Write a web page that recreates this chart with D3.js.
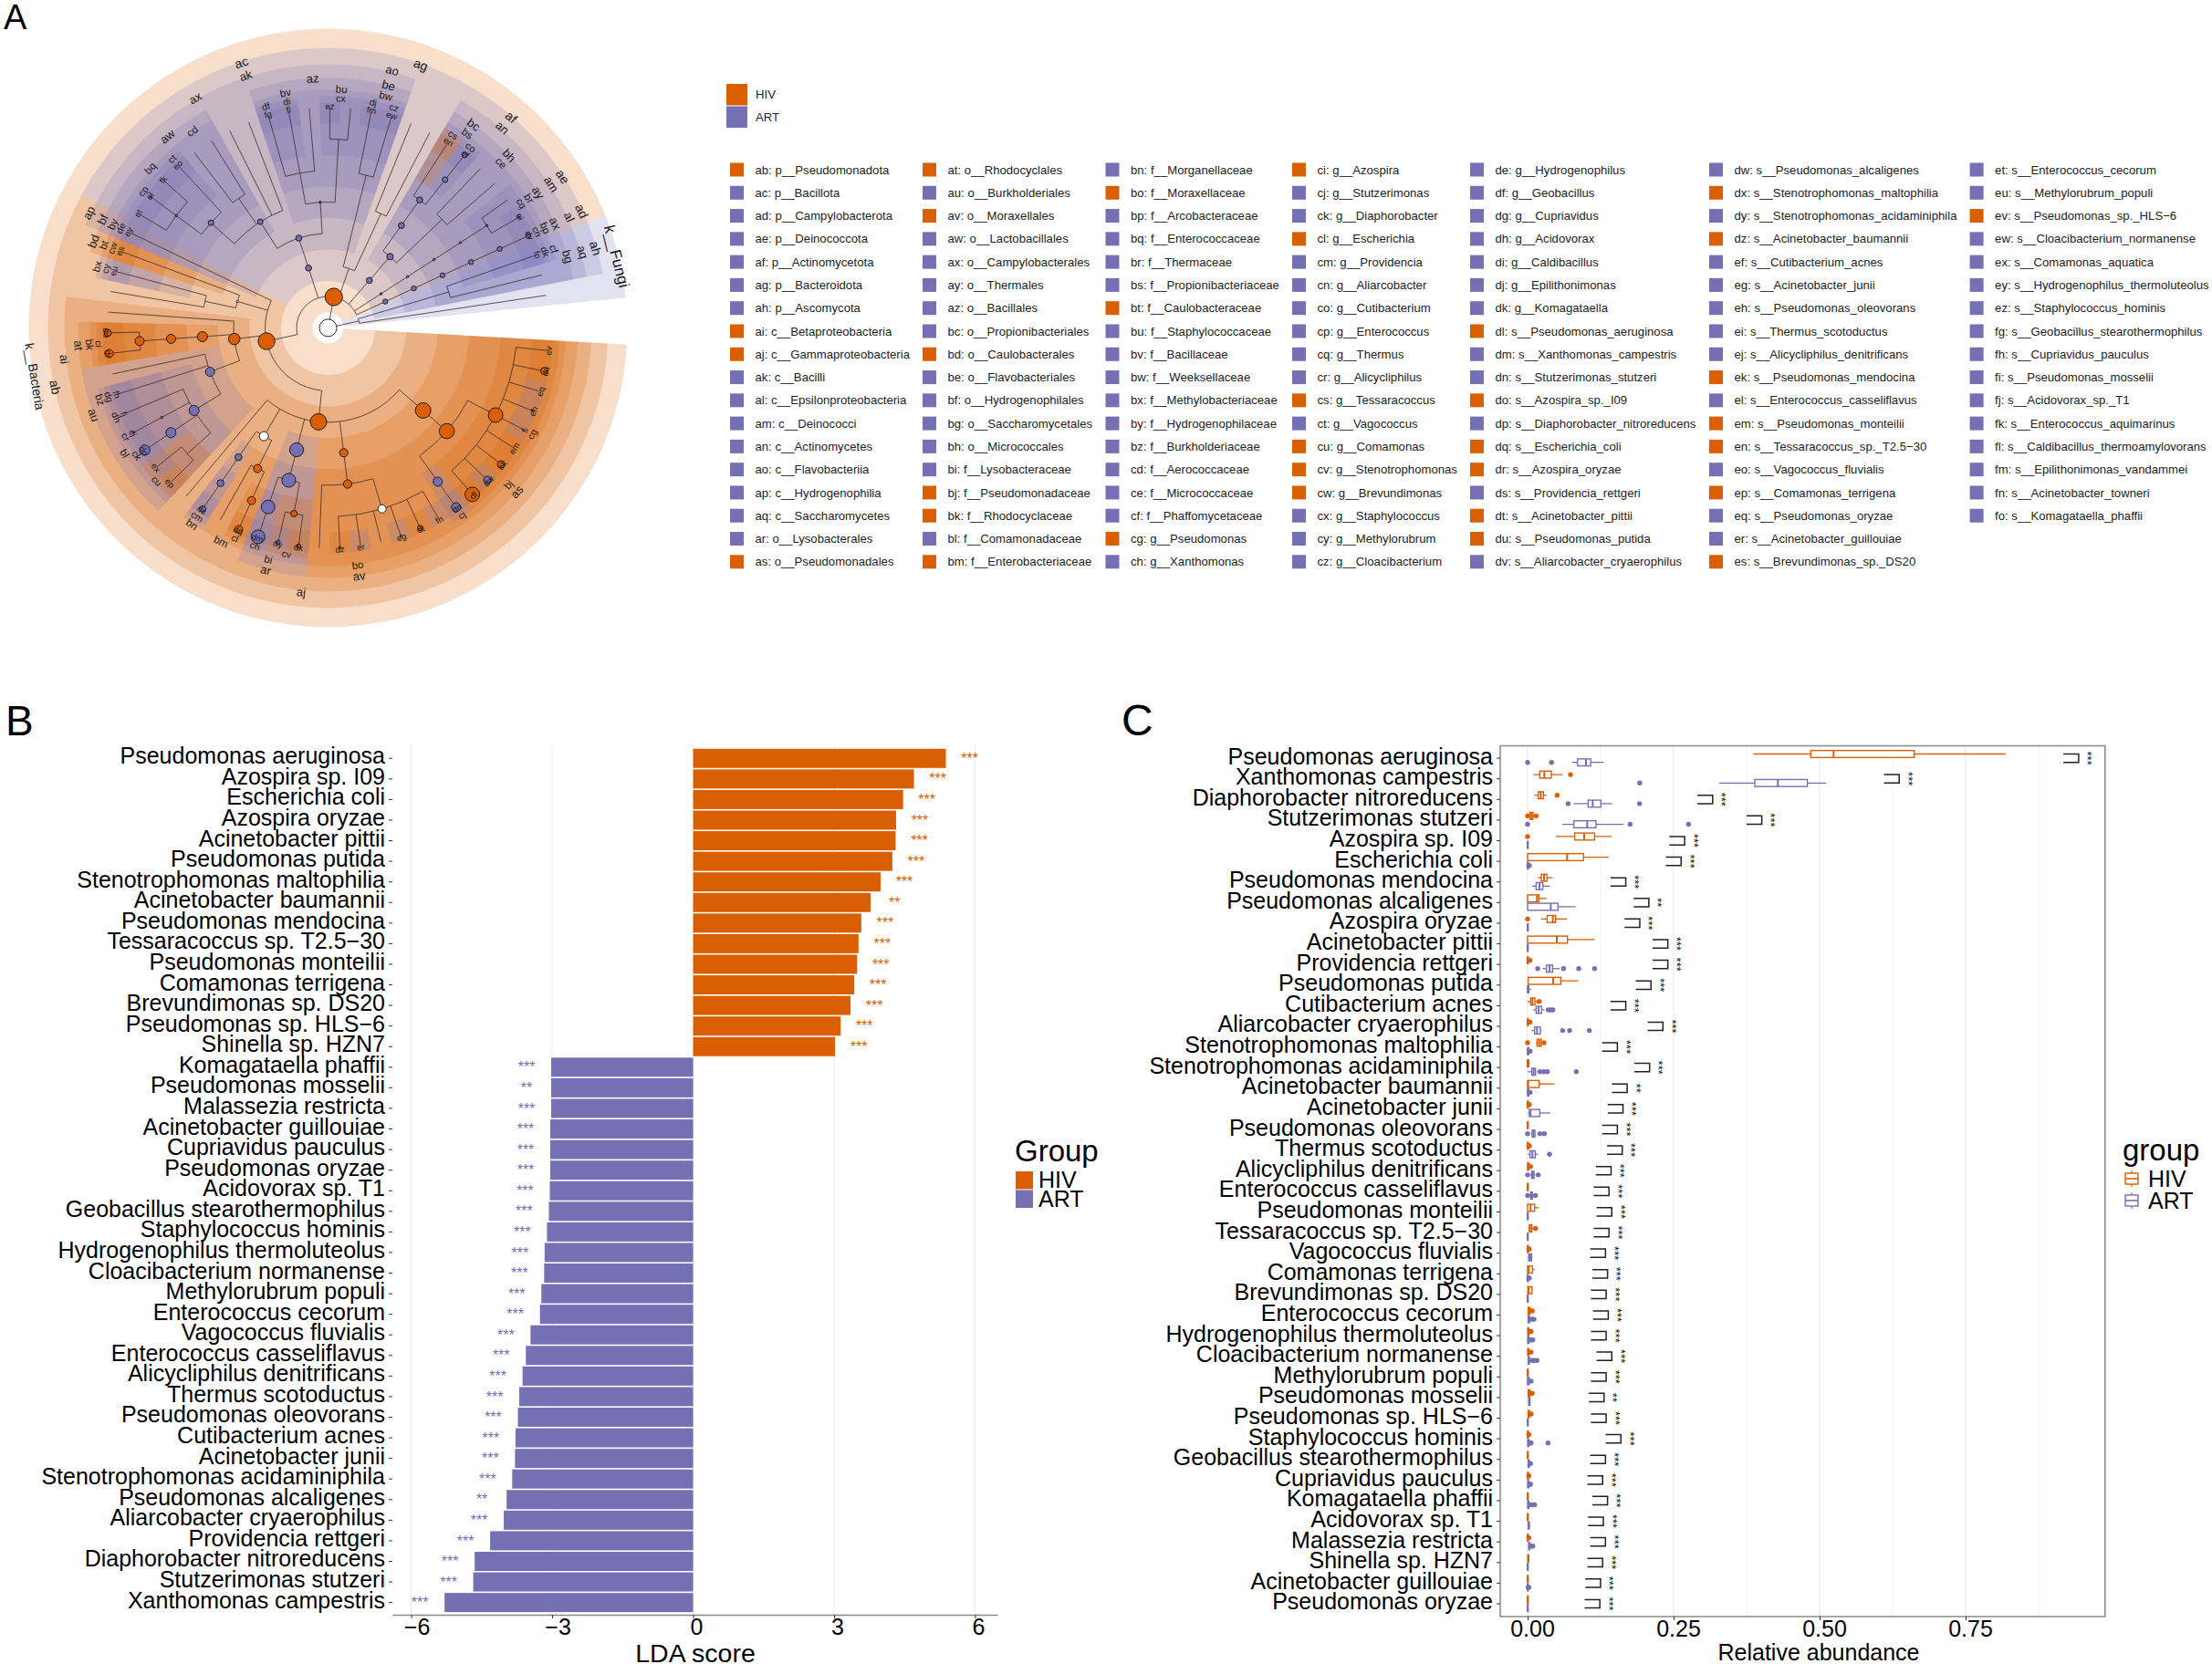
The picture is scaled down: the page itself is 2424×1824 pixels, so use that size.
<!DOCTYPE html>
<html>
<head>
<meta charset="utf-8">
<script src="https://cdn.jsdelivr.net/npm/d3@7"></script>
<style>
  html, body { margin: 0; padding: 0; background: #fff; }
  svg { display: block; font-family: "Liberation Sans", Arial, sans-serif; }
</style>
</head>
<body>
<svg id="fig" width="2424" height="1824"></svg>
<script>
// ---- data -----------------------------------------------------------------
const HIV = '#D95F02', ART = '#7570B3';

// panel A legend, one list per column
const legendCol1 = ['ab: p__Pseudomonadota','ac: p__Bacillota','ad: p__Campylobacterota','ae: p__Deinococcota','af: p__Actinomycetota','ag: p__Bacteroidota','ah: p__Ascomycota','ai: c__Betaproteobacteria','aj: c__Gammaproteobacteria','ak: c__Bacilli','al: c__Epsilonproteobacteria','am: c__Deinococci','an: c__Actinomycetes','ao: c__Flavobacteriia','ap: c__Hydrogenophilia','aq: c__Saccharomycetes','ar: o__Lysobacterales','as: o__Pseudomonadales'];
const legendCol2 = ['at: o__Rhodocyclales','au: o__Burkholderiales','av: o__Moraxellales','aw: o__Lactobacillales','ax: o__Campylobacterales','ay: o__Thermales','az: o__Bacillales','bc: o__Propionibacteriales','bd: o__Caulobacterales','be: o__Flavobacteriales','bf: o__Hydrogenophilales','bg: o__Saccharomycetales','bh: o__Micrococcales','bi: f__Lysobacteraceae','bj: f__Pseudomonadaceae','bk: f__Rhodocyclaceae','bl: f__Comamonadaceae','bm: f__Enterobacteriaceae'];
const legendCol3 = ['bn: f__Morganellaceae','bo: f__Moraxellaceae','bp: f__Arcobacteraceae','bq: f__Enterococcaceae','br: f__Thermaceae','bs: f__Propionibacteriaceae','bt: f__Caulobacteraceae','bu: f__Staphylococcaceae','bv: f__Bacillaceae','bw: f__Weeksellaceae','bx: f__Methylobacteriaceae','by: f__Hydrogenophilaceae','bz: f__Burkholderiaceae','cd: f__Aerococcaceae','ce: f__Micrococcaceae','cf: f__Phaffomycetaceae','cg: g__Pseudomonas','ch: g__Xanthomonas'];
const legendCol4 = ['ci: g__Azospira','cj: g__Stutzerimonas','ck: g__Diaphorobacter','cl: g__Escherichia','cm: g__Providencia','cn: g__Aliarcobacter','co: g__Cutibacterium','cp: g__Enterococcus','cq: g__Thermus','cr: g__Alicycliphilus','cs: g__Tessaracoccus','ct: g__Vagococcus','cu: g__Comamonas','cv: g__Stenotrophomonas','cw: g__Brevundimonas','cx: g__Staphylococcus','cy: g__Methylorubrum','cz: g__Cloacibacterium'];
const legendCol5 = ['de: g__Hydrogenophilus','df: g__Geobacillus','dg: g__Cupriavidus','dh: g__Acidovorax','di: g__Caldibacillus','dj: g__Epilithonimonas','dk: g__Komagataella','dl: s__Pseudomonas_aeruginosa','dm: s__Xanthomonas_campestris','dn: s__Stutzerimonas_stutzeri','do: s__Azospira_sp._I09','dp: s__Diaphorobacter_nitroreducens','dq: s__Escherichia_coli','dr: s__Azospira_oryzae','ds: s__Providencia_rettgeri','dt: s__Acinetobacter_pittii','du: s__Pseudomonas_putida','dv: s__Aliarcobacter_cryaerophilus'];
const legendCol6 = ['dw: s__Pseudomonas_alcaligenes','dx: s__Stenotrophomonas_maltophilia','dy: s__Stenotrophomonas_acidaminiphila','dz: s__Acinetobacter_baumannii','ef: s__Cutibacterium_acnes','eg: s__Acinetobacter_junii','eh: s__Pseudomonas_oleovorans','ei: s__Thermus_scotoductus','ej: s__Alicycliphilus_denitrificans','ek: s__Pseudomonas_mendocina','el: s__Enterococcus_casseliflavus','em: s__Pseudomonas_monteilii','en: s__Tessaracoccus_sp._T2.5\u221230','eo: s__Vagococcus_fluvialis','ep: s__Comamonas_terrigena','eq: s__Pseudomonas_oryzae','er: s__Acinetobacter_guillouiae','es: s__Brevundimonas_sp._DS20'];
const legendCol7 = ['et: s__Enterococcus_cecorum','eu: s__Methylorubrum_populi','ev: s__Pseudomonas_sp._HLS\u22126','ew: s__Cloacibacterium_normanense','ex: s__Comamonas_aquatica','ey: s__Hydrogenophilus_thermoluteolus','ez: s__Staphylococcus_hominis','fg: s__Geobacillus_stearothermophilus','fh: s__Cupriavidus_pauculus','fi: s__Pseudomonas_mosselii','fj: s__Acidovorax_sp._T1','fk: s__Enterococcus_aquimarinus','fl: s__Caldibacillus_thermoamylovorans','fm: s__Epilithonimonas_vandammei','fn: s__Acinetobacter_towneri','fo: s__Komagataella_phaffii'];
const hivTaxa = ['ab','ai','aj','as','at','av','bd','bj','bk','bm','bo','bt','cg','ci','cl','cs','cu','cv','cw','dl','do','dq','dr','dt','du','dx','dz','ek','em','en','ep','es','ev','k__Bacteria'];

// cladogram: [label, node radius, ...children], children in clockwise order
const cladeTree = ['', 9.5,
  ['k__Bacteria', 9.6,
    ['ab', 9.2,
      ['aj', 9,
        ['as', 8.5, ['bj', 8.3,
          ['cg', 8, ['ev',0],['du',3.8],['eq',0],['eh',1],['fi',0],['em',0],['ek',4],['dw',4.2],['dl',8]],
          ['cj', 5, ['dn',5]]]],
        ['av', 4.6, ['bo', 4.6,
          ['', 4.5, ['fn',0],['dt',3],['eg',1],['',0],['er',0],['dz',1.5]],
          ['',0]]],
        ['ar', 7.6, ['bi', 7.6,
          ['cv', 3.5, ['dx',2.5],['dy',2.5]],
          ['ch', 7.4, ['dm',7.5]]]],
        ['', 5,
          ['bm', 4.5, ['cl',4.4,['dq',4.3]], ['',0]],
          ['bn', 3.8, ['cm',3.8,['ds',3.5]]]],
        ['',0]],
      ['ai', 6.3,
        ['au', 5,
          ['bl', 5.5,
            ['cu',0,['ep',0],['ex',0]],
            ['ck',5.5,['dp',5.6]],
            ['cr',1.2,['ej',1]],
            ['dh',0,['fj',0]]],
          ['bz',0,['dg',0,['fh',0]]],
          ['',0]],
        ['at',5.5,['bk',5,['ci',5,['dr',4.5],['do',4]]]],
        ['',0]],
      ['', 1.2,
        ['',0,['',0],['bx',0,['cy',0,['eu',0]]]],
        ['bd',0,['bt',0,['cw',0,['es',0]]]]],
      ['ap',0,['bf',0,['by',0,['de',0,['ey',0]]]]]],
    ['ac', 3.3, ['ak', 3.3,
      ['aw', 3,
        ['bq', 3, ['cp',1.2,['et',0],['el',1],['fk',0]], ['ct',0,['eo',0]]],
        ['cd',0,['',0],['',0]],
        ['',0],['',0]],
      ['az', 1.2,
        ['bv',0,['df',0,['fg',0]],['di',0,['fl',0]],['',0]],
        ['bu',0,['cx',0,['ez',0],['',0]]]]]],
    ['ag',0,
      ['ao',0,['be',0,['bw',0,['dj',0,['fm',0]],['cz',0,['ew',0]]]]],
      ['',0,['',0,['',0],['',0]]]],
    ['af',3.3,['an',3.5,
      ['bc',3.3,['bs',3.3,['cs',0,['en',0]],['co',3,['ef',3]]]],
      ['bh',0,['ce',0,['',0],['',0]]]]],
    ['ae',1.2,['am',1.2,['ay',1.2,['br',1.2,['cq',1.2,['',0],['ei',1.2]]]]]],
    ['ad',2.7,['al',2.7,['ax',2.7,['bp',2.7,['cn',2.7,['dv',2.7]]]]]]],
  ['k__Fungi',0,
    ['ah',0,['aq',0,['bg',0,['cf',0,['dk',0,['fo',0]]],['',0]]]],
    ['',0]]];
const leafCount = 65;
const ringOuter = [328, 307, 289, 274, 261, 254, 247];     // k..s shaded wedge outer radius
const labelRadius = [326, 306, 291, 274, 262, 252, 243];   // k..s label radius
const labelSize = [14, 14, 13, 13, 11.5, 10.5, 9.5];
const kingdomFungiSize = 17;
// the Lactobacillales wedge stops short of the two last leaves of its clade
const wedgeSpanFix = { aw: [38, 43] };
const labelLeafFix = { aw: 41.5 };
const extraLabels = [{ label: 'ax', level: 2, leaf: 43.35 }];

// panel B
const lefseHIV = ['Pseudomonas aeruginosa','Azospira sp. I09','Escherichia coli','Azospira oryzae','Acinetobacter pittii','Pseudomonas putida','Stenotrophomonas maltophilia','Acinetobacter baumannii','Pseudomonas mendocina','Tessaracoccus sp. T2.5\u221230','Pseudomonas monteilii','Comamonas terrigena','Brevundimonas sp. DS20','Pseudomonas sp. HLS\u22126','Shinella sp. HZN7'];
const ldaHIV = [5.38,4.70,4.47,4.32,4.31,4.24,3.99,3.78,3.58,3.52,3.49,3.43,3.35,3.14,3.02];
const sigHIV = ['***','***','***','***','***','***','***','**','***','***','***','***','***','***','***'];
const lefseART = ['Komagataella phaffii','Pseudomonas mosselii','Malassezia restricta','Acinetobacter guillouiae','Cupriavidus pauculus','Pseudomonas oryzae','Acidovorax sp. T1','Geobacillus stearothermophilus','Staphylococcus hominis','Hydrogenophilus thermoluteolus','Cloacibacterium normanense','Methylorubrum populi','Enterococcus cecorum','Vagococcus fluvialis','Enterococcus casseliflavus','Alicycliphilus denitrificans','Thermus scotoductus','Pseudomonas oleovorans','Cutibacterium acnes','Acinetobacter junii','Stenotrophomonas acidaminiphila','Pseudomonas alcaligenes','Aliarcobacter cryaerophilus','Providencia rettgeri','Diaphorobacter nitroreducens','Stutzerimonas stutzeri','Xanthomonas campestris'];
const ldaART = [-3.02,-3.02,-3.02,-3.04,-3.04,-3.04,-3.05,-3.07,-3.11,-3.16,-3.17,-3.23,-3.26,-3.46,-3.56,-3.63,-3.70,-3.73,-3.78,-3.79,-3.85,-3.97,-4.03,-4.32,-4.65,-4.68,-5.29];
const sigART = ['***','**','***','***','***','***','***','***','***','***','***','***','***','***','***','***','***','***','***','***','***','**','***','***','***','***','***'];

// panel C, rows top to bottom; boxes are [lower whisker, q1, median, q3, upper whisker, outliers]
const abundanceTaxa = ['Pseudomonas aeruginosa','Xanthomonas campestris','Diaphorobacter nitroreducens','Stutzerimonas stutzeri','Azospira sp. I09','Escherichia coli','Pseudomonas mendocina','Pseudomonas alcaligenes','Azospira oryzae','Acinetobacter pittii','Providencia rettgeri','Pseudomonas putida','Cutibacterium acnes','Aliarcobacter cryaerophilus','Stenotrophomonas maltophilia','Stenotrophomonas acidaminiphila','Acinetobacter baumannii','Acinetobacter junii','Pseudomonas oleovorans','Thermus scotoductus','Alicycliphilus denitrificans','Enterococcus casseliflavus','Pseudomonas monteilii','Tessaracoccus sp. T2.5\u221230','Vagococcus fluvialis','Comamonas terrigena','Brevundimonas sp. DS20','Enterococcus cecorum','Hydrogenophilus thermoluteolus','Cloacibacterium normanense','Methylorubrum populi','Pseudomonas mosselii','Pseudomonas sp. HLS\u22126','Staphylococcus hominis','Geobacillus stearothermophilus','Cupriavidus pauculus','Komagataella phaffii','Acidovorax sp. T1','Malassezia restricta','Shinella sp. HZN7','Acinetobacter guillouiae','Pseudomonas oryzae'];
const boxHIV = [
  [.3866,.485,.524,.662,.819,[]],[.0099,.0208,.0286,.0406,.06,[.0734]],[.012,.0182,.0224,.027,.0323,[.0505]],
  [.0016,.0042,.0068,.0094,.012,[0,.0146]],[.0484,.0807,.0969,.1146,.1437,[0]],[0,0,.0677,.0958,.1385,[]],
  [.0177,.0234,.0281,.0333,.0427,[]],[0,0,.0161,.0193,.0323,[]],[.0229,.0333,.0432,.0479,.0677,[0]],
  [0,0,.05,.0682,.115,[]],[0,0,0,.001,.002,[.002,.003,.004]],[.001,.001,.0438,.0568,.0865,[]],
  [0,.0052,.0083,.0125,.0172,[.0198]],[0,0,.0005,.001,.002,[.003,.004]],[.0146,.0161,.0198,.0234,.025,[0,.0281]],
  [0,0,0,.002,.004,[]],[0,0,.001,.0198,.0464,[]],[0,0,.0005,.001,.002,[.002,.003]],
  [0,0,0,.001,.002,[]],[0,0,.0005,.001,.002,[.002,.003]],[0,0,.001,.002,.003,[.005]],
  [0,0,0,.001,.002,[]],[0,0,.0052,.012,.0188,[]],[.0021,.0031,.0042,.0073,.0094,[.0135]],
  [0,0,.0005,.001,.002,[.002,.003]],[0,0,.002,.0084,.012,[]],[0,.0005,.002,.0075,.008,[]],
  [0,.001,.002,.004,.005,[.006,.008]],[0,.0005,.001,.002,.003,[.004,.006]],[0,.0005,.001,.002,.003,[.004,.006]],
  [0,0,0,.001,.002,[]],[0,.001,.002,.004,.005,[.006,.008]],[0,.001,.002,.003,.005,[.006]],
  [0,0,.0005,.001,.002,[.002]],[0,0,0,.001,.001,[]],[0,0,.001,.001,.002,[.002]],
  [0,0,0,.001,.001,[]],[0,0,0,.001,.001,[]],[0,0,.0005,.001,.002,[.002]],
  [0,.0005,.001,.002,.002,[]],[0,0,0,.001,.001,[]],[0,0,0,.001,.001,[]]];
const boxART = [
  [.076,.0854,.1,.108,.13,[0,.041]],[.328,.389,.4286,.479,.511,[.192]],[.0786,.1036,.1115,.1255,.1448,[.0693,.1917]],
  [.0594,.0792,.102,.117,.1646,[0,.1755,.2755]],[0,0,0,.001,.001,[]],[0,0,.0005,.001,.002,[.002,.003]],
  [.0078,.0146,.0203,.026,.0385,[]],[0,0,.0396,.0521,.0823,[]],[0,0,0,.001,.001,[]],
  [0,0,0,.001,.001,[]],[.026,.0323,.0375,.0427,.055,[.0172,.0615,.0875,.1146]],[0,0,.001,.002,.006,[]],
  [.0094,.0146,.0188,.024,.029,[.0354,.039,.0432]],[.0068,.012,.0161,.0219,.024,[.06,.0719,.1057]],[0,0,.0005,.002,.003,[.0042]],
  [.0005,.0073,.0104,.0135,.0146,[.0208,.0276,.0339,.0833]],[0,0,.001,.002,.004,[.003,.0042]],[.001,.003,.005,.0208,.039,[]],
  [.0057,.0078,.01,.0125,.0135,[0,.0208,.0286]],[.0005,.0042,.0083,.013,.0177,[.0375]],[.0042,.0068,.0089,.0109,.0135,[0,.0182]],
  [.0031,.0052,.0068,.0083,.0094,[0,.0135]],[0,0,0,.001,.001,[]],[0,0,0,.001,.001,[]],
  [.0005,.0021,.0045,.0068,.0083,[]],[0,0,0,.001,.002,[.002,.003]],[0,0,0,.001,.001,[]],
  [0,.001,.002,.003,.004,[.006,.008,.011]],[0,.0005,.001,.002,.003,[.004,.006,.009]],[0,.001,.002,.003,.005,[.008,.012,.016]],
  [0,0,.001,.003,.005,[.006]],[.002,.002,.003,.004,.005,[]],[0,0,0,.001,.001,[]],
  [0,.0005,.001,.002,.003,[.004,.006,.035]],[.001,.001,.002,.003,.004,[.005]],[0,.0005,.001,.002,.003,[.004,.005]],
  [0,.0005,.001,.002,.003,[.005,.008,.012]],[.001,.001,.002,.003,.003,[]],[.001,.002,.003,.004,.005,[.007,.009]],
  [0,0,0,.001,.001,[]],[0,0,0,.001,.001,[.001,.002]],[0,0,0,.001,.001,[]]];
const bracketAt = [.9436,.6363,.3169,.401,.2689,.2629,.1681,.2077,.1921,.2401,.2401,.2113,.1681,.2317,.1537,.2089,.1705,.1633,.1537,.1621,.1429,.1393,.1441,.1393,.1333,.1369,.1345,.1381,.1345,.1441,.1345,.1309,.1345,.1597,.1333,.1285,.1369,.1297,.1333,.1285,.1249,.1237];
const bracketSig = abundanceTaxa.map(t => ['Pseudomonas alcaligenes','Acinetobacter baumannii','Pseudomonas mosselii'].includes(t) ? '**' : '***');

// ---- helpers --------------------------------------------------------------
const svg = d3.select('#fig');
const rad = d => d * Math.PI / 180;
const panelTag = (t, x, y, size) => svg.append('text').attr('x', x).attr('y', y).attr('font-size', size).attr('fill', '#000').text(t);
const starDrop = 0.575;   // '*' sits high in its line box
panelTag('A', 4, 32, 38);
panelTag('B', 6, 806, 46);
panelTag('C', 1229, 806, 48);

// ---- panel A: cladogram ---------------------------------------------------
const cx = 359.5, cy = 359.4;
const gA = svg.append('g').attr('transform', `translate(${cx},${cy})`);
const theta = d3.scaleLinear([0, leafCount - 1], [5.9, 351.5]);
const radius = d3.scaleLinear([0, 7], [0, 241.5]);
const halfLeaf = 2.7;
const isHIV = new Set(hivTaxa);
const colorOf = l => isHIV.has(l) ? HIV : ART;

const root = d3.hierarchy(cladeTree, d => d.slice(2).length ? d.slice(2) : null);
let nextLeaf = 0;
root.eachAfter(n => {
  n.label = n.data[0];
  n.size = n.data[1];
  if (!n.children) {
    n.leafMin = n.leafMax = nextLeaf++;
    n.theta = theta(n.leafMin);
    n.r = radius(7);
  } else {
    n.leafMin = d3.min(n.children, c => c.leafMin);
    n.leafMax = d3.max(n.children, c => c.leafMax);
    n.theta = d3.mean(n.children, c => c.theta);
    n.r = radius(n.depth);
  }
});
const nodes = root.descendants();
const labelled = nodes.filter(n => n.label);

const wedgeArc = d3.arc();
const wedgeG = gA.append('g');
labelled.slice().sort((a, b) => a.depth - b.depth).forEach(n => {
  const span = wedgeSpanFix[n.label] || [n.leafMin, n.leafMax];
  wedgeG.append('path')
    .attr('d', wedgeArc({
      innerRadius: radius(n.depth - 1) + 17,
      outerRadius: ringOuter[n.depth - 1],
      startAngle: rad(theta(span[0]) - halfLeaf + 90),
      endAngle: rad(theta(span[1]) + halfLeaf + 90)
    }))
    .attr('fill', colorOf(n.label))
    .attr('fill-opacity', 0.2);
});
// white hole round the root
gA.append('circle').attr('r', 15.6).attr('fill', '#fff');

const branch = d3.path();
nodes.forEach(n => {
  if (!n.children) return;
  if (n.children.length > 1 && n.r > 0) {
    const a0 = d3.min(n.children, c => c.theta), a1 = d3.max(n.children, c => c.theta);
    branch.moveTo(n.r * Math.cos(rad(a0)), n.r * Math.sin(rad(a0)));
    branch.arc(0, 0, n.r, rad(a0), rad(a1));
  }
  n.children.forEach(c => {
    const a = rad(c.theta);
    branch.moveTo(n.r * Math.cos(a), n.r * Math.sin(a));
    branch.lineTo(c.r * Math.cos(a), c.r * Math.sin(a));
  });
});
gA.append('path').attr('d', branch.toString()).attr('fill', 'none').attr('stroke', '#3a2c28').attr('stroke-width', 0.8);

gA.selectAll('circle.node').data(nodes.filter(n => n.size > 0)).join('circle')
  .attr('class', 'node')
  .attr('cx', n => n.r * Math.cos(rad(n.theta)))
  .attr('cy', n => n.r * Math.sin(rad(n.theta)))
  .attr('r', n => n.size)
  .attr('fill', n => n.label ? colorOf(n.label) : '#fff')
  .attr('stroke', '#111')
  .attr('stroke-width', 0.9);

const placeLabel = (text, th, level, size) => {
  const r = labelRadius[level];
  const rot = th > 180 ? th - 270 : th - 90;
  gA.append('text')
    .attr('transform', `translate(${r * Math.cos(rad(th))},${r * Math.sin(rad(th))}) rotate(${rot})`)
    .attr('text-anchor', 'middle').attr('dy', '0.35em')
    .attr('font-size', size || labelSize[level]).attr('fill', '#1a1a1a')
    .text(text);
};
labelled.forEach(n => {
  let th = n.theta;
  if (n.depth === 1) th = (theta(n.leafMin) + theta(n.leafMax)) / 2;
  if (labelLeafFix[n.label] !== undefined) th = theta(labelLeafFix[n.label]);
  placeLabel(n.label, th, n.depth - 1, n.label === 'k__Fungi' ? kingdomFungiSize : null);
});
extraLabels.forEach(e => placeLabel(e.label, theta(e.leaf), e.level));

// ---- panel A: legend ------------------------------------------------------
const keyG = svg.append('g');
[['HIV', HIV, 92], ['ART', ART, 116.5]].forEach(([t, c, y]) => {
  keyG.append('rect').attr('x', 796).attr('y', y).attr('width', 23).attr('height', 23.5).attr('fill', c);
  keyG.append('text').attr('x', 828).attr('y', y + 11.7).attr('dy', '0.35em').attr('font-size', 13.15).attr('fill', '#222').text(t);
});
const legendCols = [legendCol1, legendCol2, legendCol3, legendCol4, legendCol5, legendCol6, legendCol7];
const legendX = [800, 1011, 1211.5, 1416, 1611, 1873, 2158.6];
const legendY = d3.scaleLinear([0, 17], [186, 615.8]);
legendCols.forEach((col, ci) => {
  const g = keyG.append('g').attr('transform', `translate(${legendX[ci]},0)`);
  col.forEach((t, i) => {
    g.append('rect').attr('x', 0).attr('y', legendY(i) - 7.5).attr('width', 15).attr('height', 15)
      .attr('fill', colorOf(t.slice(0, 2)));
    g.append('text').attr('x', 27.5).attr('y', legendY(i)).attr('dy', '0.35em')
      .attr('font-size', 13.15).attr('fill', '#222').text(t);
  });
});

// ---- panel B: LDA bars ----------------------------------------------------
const rowsB = lefseHIV.concat(lefseART);
const ldaB = ldaHIV.concat(ldaART);
const sigB = sigHIV.concat(sigART);
const xB = d3.scaleLinear([-6.4, 6.476], [430, 1093]);
const yB = d3.scaleBand(rowsB, [820, 1767.9]).paddingInner(0.07).paddingOuter(0.035);
const gB = svg.append('g');
gB.selectAll('line.grid').data([-6, -3, 0, 3, 6]).join('line').attr('class', 'grid')
  .attr('x1', xB).attr('x2', xB).attr('y1', 817).attr('y2', 1770)
  .attr('stroke', '#ebebeb').attr('stroke-width', 1);
gB.selectAll('rect').data(rowsB).join('rect')
  .attr('x', (d, i) => xB(Math.min(0, ldaB[i])))
  .attr('width', (d, i) => Math.abs(xB(ldaB[i]) - xB(0)))
  .attr('y', d => yB(d)).attr('height', yB.bandwidth())
  .attr('fill', (d, i) => ldaB[i] > 0 ? HIV : ART);
gB.selectAll('text.sig').data(rowsB).join('text').attr('class', 'sig')
  .attr('x', (d, i) => xB(ldaB[i]) + (ldaB[i] > 0 ? 26 : -27))
  .attr('y', d => yB(d) + yB.bandwidth() / 2 - 3.6 + starDrop * 16)
  .attr('text-anchor', 'middle').attr('font-size', 16)
  .attr('fill', (d, i) => ldaB[i] > 0 ? HIV : ART)
  .text((d, i) => sigB[i]);

const styleAxis = (g, size) => {
  g.selectAll('text').attr('font-size', size).attr('fill', '#000').attr('font-family', '"Liberation Sans", Arial, sans-serif');
  g.selectAll('line').attr('stroke', '#333').attr('stroke-width', 1);
};
gB.append('g').attr('transform', 'translate(430,0)')
  .call(d3.axisLeft(yB).tickSize(4).tickPadding(4))
  .call(g => g.select('.domain').remove())
  .call(g => styleAxis(g, 25))
  .call(g => g.selectAll('text').attr('dy', '0.24em'));
gB.append('g').attr('transform', 'translate(0,1770)')
  .call(d3.axisBottom(xB).tickValues([-6, -3, 0, 3, 6]).tickSize(4).tickPadding(0).tickSizeOuter(0))
  .call(g => g.select('.domain').attr('stroke', '#888').attr('stroke-width', 1.5))
  .call(g => styleAxis(g, 25))
  .call(g => g.selectAll('text').attr('dx', d => d < 0 ? 6 : 3.5));
gB.append('text').attr('x', 762).attr('y', 1812).attr('dy', '0.35em').attr('text-anchor', 'middle')
  .attr('font-size', 28.5).text('LDA score');

const legB = svg.append('g');
legB.append('text').attr('x', 1112).attr('y', 1261).attr('dy', '0.35em').attr('font-size', 33).text('Group');
[['HIV', HIV, 1284], ['ART', ART, 1304.5]].forEach(([t, c, y]) => {
  legB.append('rect').attr('x', 1113).attr('y', y).attr('width', 19).attr('height', 19.5).attr('fill', c);
  legB.append('text').attr('x', 1138).attr('y', y + 9.7).attr('dy', '0.35em').attr('font-size', 25).text(t);
});

// ---- panel C: relative abundance boxes ------------------------------------
const xC = d3.scaleLinear([-0.0469, 0.9888], [1644, 2306.8]);
const yC = d3.scaleBand(abundanceTaxa, [819.8, 1769.3]);
const gC = svg.append('g');
gC.selectAll('line.minor').data([.125, .375, .625, .875]).join('line').attr('class', 'minor')
  .attr('x1', xC).attr('x2', xC).attr('y1', 817.5).attr('y2', 1772)
  .attr('stroke', '#f3f3f3').attr('stroke-width', 1);
gC.selectAll('line.major').data([0, .25, .5, .75]).join('line').attr('class', 'major')
  .attr('x1', xC).attr('x2', xC).attr('y1', 817.5).attr('y2', 1772)
  .attr('stroke', '#e6e6e6').attr('stroke-width', 1);
const dodge = 4.6, boxH = 7.7;
const drawBoxes = (rows, color, off) => {
  const g = gC.append('g').attr('stroke', color).attr('fill', 'none');
  rows.forEach((b, i) => {
    const yc = yC(abundanceTaxa[i]) + yC.bandwidth() / 2 + off;
    const [lo, q1, med, q3, hi, out] = b;
    g.append('line').attr('x1', xC(lo)).attr('x2', xC(hi)).attr('y1', yc).attr('y2', yc).attr('stroke-width', 1.3);
    g.append('rect').attr('x', xC(q1)).attr('y', yc - boxH / 2).attr('width', xC(q3) - xC(q1)).attr('height', boxH)
      .attr('fill', '#fff').attr('stroke-width', 1.4);
    g.append('line').attr('x1', xC(med)).attr('x2', xC(med)).attr('y1', yc - boxH / 2).attr('y2', yc + boxH / 2).attr('stroke-width', 2);
    out.forEach(o => g.append('circle').attr('cx', xC(o)).attr('cy', yc).attr('r', 2.7).attr('fill', color).attr('stroke', 'none'));
  });
};
drawBoxes(boxHIV, HIV, -dodge);
drawBoxes(boxART, ART, dodge);
abundanceTaxa.forEach((t, i) => {
  const yc = yC(t) + yC.bandwidth() / 2, xr = xC(bracketAt[i]);
  gC.append('path').attr('d', d3.line()([[xr - 16.7, yc - dodge], [xr, yc - dodge], [xr, yc + dodge], [xr - 16.7, yc + dodge]]))
    .attr('fill', 'none').attr('stroke', '#222').attr('stroke-width', 1.5);
  gC.append('text')
    .attr('transform', `translate(${xr + 13 - starDrop * 13},${yc}) rotate(90)`)
    .attr('text-anchor', 'middle').attr('font-size', 13).attr('fill', '#111').text(bracketSig[i]);
});
gC.append('rect').attr('x', 1644).attr('y', 817.5).attr('width', 662.8).attr('height', 954.5)
  .attr('fill', 'none').attr('stroke', '#888').attr('stroke-width', 1.5);
gC.append('g').attr('transform', 'translate(1644,0)')
  .call(d3.axisLeft(yC).tickSize(4).tickPadding(4))
  .call(g => g.select('.domain').remove())
  .call(g => styleAxis(g, 25))
  .call(g => g.selectAll('text').attr('dy', '0.26em'));
gC.append('g').attr('transform', 'translate(0,1772)')
  .call(d3.axisBottom(xC).tickValues([0, .25, .5, .75]).tickFormat(d3.format('.2f')).tickSize(4).tickPadding(0))
  .call(g => g.select('.domain').remove())
  .call(g => styleAxis(g, 25))
  .call(g => g.selectAll('text').attr('dx', 5));
gC.append('text').attr('x', 1993).attr('y', 1811).attr('dy', '0.35em').attr('text-anchor', 'middle')
  .attr('font-size', 25).text('Relative abundance');

const legC = svg.append('g');
legC.append('text').attr('x', 2326).attr('y', 1260).attr('dy', '0.35em').attr('font-size', 33).text('group');
[['HIV', HIV, 1292], ['ART', ART, 1316]].forEach(([t, c, y]) => {
  legC.append('line').attr('x1', 2336).attr('x2', 2336).attr('y1', y - 9).attr('y2', y + 9).attr('stroke', c).attr('stroke-width', 1.2);
  legC.append('rect').attr('x', 2329).attr('y', y - 6).attr('width', 14).attr('height', 12).attr('fill', '#fff').attr('stroke', c).attr('stroke-width', 1.4);
  legC.append('line').attr('x1', 2329).attr('x2', 2343).attr('y1', y).attr('y2', y).attr('stroke', c).attr('stroke-width', 1.6);
  legC.append('text').attr('x', 2354).attr('y', y).attr('dy', '0.35em').attr('font-size', 25).text(t);
});
</script>
</body>
</html>
